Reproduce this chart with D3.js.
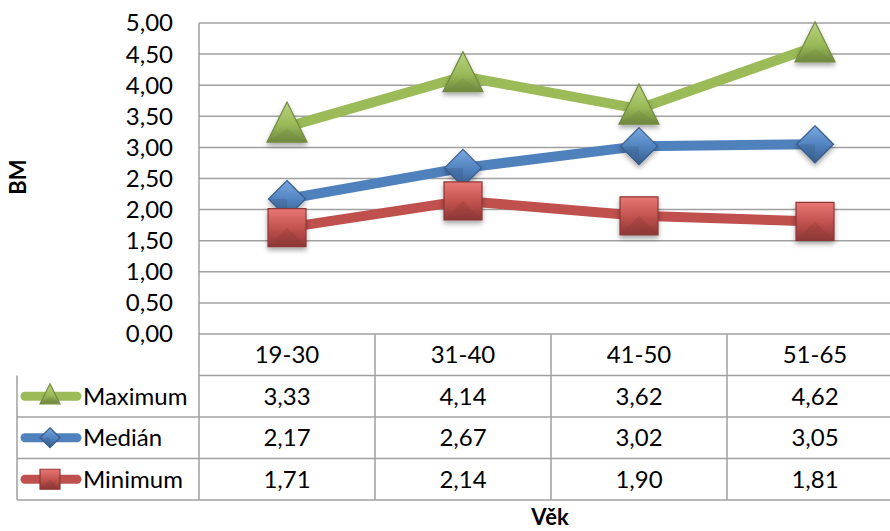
<!DOCTYPE html>
<html>
<head>
<meta charset="utf-8">
<script src="https://cdn.jsdelivr.net/npm/d3@7"></script>
<style>
  body { margin: 0; background: #fff; }
  text { font-family: Lato, "Open Sans", sans-serif; fill: #000; }
</style>
</head>
<body>
<div id="chart"></div>
<script>
// chart data
var categories = ["19-30", "31-40", "41-50", "51-65"];
var seriesNames = ["Maximum", "Medián", "Minimum"];
var maximum = [3.33, 4.14, 3.62, 4.62];
var median = [2.17, 2.67, 3.02, 3.05];
var minimum = [1.71, 2.14, 1.90, 1.81];
var yTicks = [0, 0.5, 1, 1.5, 2, 2.5, 3, 3.5, 4, 4.5, 5];

var colors = ["#9bbb59", "#4f81bd", "#c0504d"];
var dark = ["#71893f", "#385d8a", "#8c3836"];
var light = ["#b7d27e", "#7aa7e0", "#e87774"];
var shapes = ["triangle", "diamond", "square"];
var values = [maximum, median, minimum];

var W = 890, H = 531;
var plotLeft = 199, plotTop = 23, plotBottom = 334;
var colW = 176;
var rowH = 41.5;
var fontSize = "24px";

var svg = d3.select("#chart").append("svg")
    .attr("width", W)
    .attr("height", H);

var defs = svg.append("defs");
colors.forEach(function(c, i) {
    var g = defs.append("linearGradient")
        .attr("id", "grad" + i)
        .attr("x1", 0).attr("y1", 0).attr("x2", 0).attr("y2", 1);
    g.append("stop").attr("offset", "0%").attr("stop-color", light[i]);
    g.append("stop").attr("offset", "55%").attr("stop-color", c);
    g.append("stop").attr("offset", "100%").attr("stop-color", dark[i]);
});
var f = defs.append("filter").attr("id", "shadow")
    .attr("x", "-30%").attr("y", "-30%").attr("width", "160%").attr("height", "170%");
f.append("feDropShadow").attr("dx", 0).attr("dy", 3).attr("stdDeviation", 2.5)
    .attr("flood-color", "#000").attr("flood-opacity", 0.35);

var x = d3.scaleBand()
    .domain(categories)
    .range([plotLeft, plotLeft + colW * categories.length]);

var y = d3.scaleLinear()
    .domain([0, 5])
    .range([plotBottom, plotTop]);

var fmt = function(v) { return d3.format(".2f")(v).replace(".", ","); };

// gridlines
svg.append("g").selectAll("line")
    .data(yTicks)
    .enter().append("line")
    .attr("x1", plotLeft).attr("x2", W)
    .attr("y1", function(d) { return y(d); })
    .attr("y2", function(d) { return y(d); })
    .attr("stroke", "#a0a0a0")
    .attr("stroke-width", 1.5);

// y axis line
svg.append("line")
    .attr("x1", plotLeft).attr("x2", plotLeft)
    .attr("y1", plotTop).attr("y2", plotBottom + rowH * 4)
    .attr("stroke", "#a0a0a0").attr("stroke-width", 1.5);

// y tick labels
svg.append("g").selectAll("text")
    .data(yTicks)
    .enter().append("text")
    .attr("x", 173)
    .attr("y", function(d) { return y(d); })
    .attr("dy", "0.35em")
    .attr("text-anchor", "end")
    .style("font-size", fontSize)
    .text(fmt);

// axis title BM
svg.append("text")
    .attr("transform", "translate(26,177) rotate(-90)")
    .attr("text-anchor", "middle")
    .style("font-size", "22px")
    .style("font-weight", "bold")
    .text("BM");

// data table
var table = svg.append("g");
var tableLeft = 17;
var tableRight = plotLeft + colW * categories.length;
// horizontal lines of table
d3.range(1, 5).forEach(function(r) {
    table.append("line")
        .attr("x1", r === 1 ? plotLeft : tableLeft).attr("x2", tableRight)
        .attr("y1", plotBottom + rowH * r).attr("y2", plotBottom + rowH * r)
        .attr("stroke", "#a0a0a0").attr("stroke-width", 1.5);
});
table.append("line")
    .attr("x1", tableLeft).attr("x2", tableLeft)
    .attr("y1", plotBottom + rowH).attr("y2", plotBottom + rowH * 4)
    .attr("stroke", "#a0a0a0").attr("stroke-width", 1.5);
categories.forEach(function(c, i) {
    table.append("line")
        .attr("x1", x(c) + colW).attr("x2", x(c) + colW)
        .attr("y1", plotBottom).attr("y2", plotBottom + rowH * 4)
        .attr("stroke", "#a0a0a0").attr("stroke-width", 1.5);
});

// category labels
table.selectAll("text.cat")
    .data(categories)
    .enter().append("text")
    .attr("class", "cat")
    .attr("x", function(d) { return x(d) + colW / 2; })
    .attr("y", plotBottom + rowH / 2)
    .attr("dy", "0.35em")
    .attr("text-anchor", "middle")
    .style("font-size", fontSize)
    .text(function(d) { return d; });

// value rows
values.forEach(function(vals, si) {
    var rowY = plotBottom + rowH * (si + 1) + rowH / 2;
    table.selectAll("text.v" + si)
        .data(vals)
        .enter().append("text")
        .attr("class", "v" + si)
        .attr("x", function(d, i) { return x(categories[i]) + colW / 2; })
        .attr("y", rowY)
        .attr("dy", "0.35em")
        .attr("text-anchor", "middle")
        .style("font-size", fontSize)
        .text(fmt);
    table.append("text")
        .attr("x", 83)
        .attr("y", rowY)
        .attr("dy", "0.35em")
        .style("font-size", fontSize)
        .text(seriesNames[si]);
    // legend key
    table.append("line")
        .attr("x1", 25).attr("x2", 77)
        .attr("y1", rowY).attr("y2", rowY)
        .attr("stroke", colors[si]).attr("stroke-width", 9)
        .attr("stroke-linecap", "round");
    drawMarker(table, shapes[si], 50, rowY, 20, si, false);
});

// x axis title
svg.append("text")
    .attr("x", 550)
    .attr("y", 525)
    .attr("text-anchor", "middle")
    .style("font-size", "22px")
    .style("font-weight", "bold")
    .text("Věk");

function drawMarker(g, shape, cx, cy, s, si, shadow) {
    var p;
    if (shape === "triangle") {
        p = [[cx, cy - s * 0.62], [cx + s / 2, cy + s * 0.38], [cx - s / 2, cy + s * 0.38]];
    } else if (shape === "diamond") {
        p = [[cx, cy - s / 2], [cx + s / 2, cy], [cx, cy + s / 2], [cx - s / 2, cy]];
    } else {
        var h = s / 2;
        p = [[cx - h, cy - h], [cx + h, cy - h], [cx + h, cy + h], [cx - h, cy + h]];
    }
    var m = g.append("g");
    if (shadow) m.attr("filter", "url(#shadow)");
    m.append("polygon")
        .attr("points", p.map(function(q) { return q.join(","); }).join(" "))
        .attr("fill", "url(#grad" + si + ")")
        .attr("stroke", dark[si])
        .attr("stroke-width", 1.2);
    // bevel: darker lower facet
    var c = [cx, shape === "triangle" ? cy + s * 0.05 : cy];
    var lo = p.length === 3 ? [p[1], p[2]] : [p[2], p[3]];
    m.append("polygon")
        .attr("points", [c, lo[0], lo[1]].map(function(q) { return q.join(","); }).join(" "))
        .attr("fill", dark[si]).attr("opacity", 0.35);
}

// lines and markers
var line = d3.line()
    .x(function(d, i) { return x(categories[i]) + colW / 2; })
    .y(function(d) { return y(d); });

var sizes = [40, 37, 38];
values.forEach(function(vals, si) {
    svg.append("path")
        .datum(vals)
        .attr("d", line)
        .attr("fill", "none")
        .attr("stroke", colors[si])
        .attr("stroke-width", 10)
        .attr("stroke-linejoin", "round");
});
values.forEach(function(vals, si) {
    vals.forEach(function(v, i) {
        drawMarker(svg, shapes[si], x(categories[i]) + colW / 2, y(v), sizes[si], si, true);
    });
});
</script>
</body>
</html>
